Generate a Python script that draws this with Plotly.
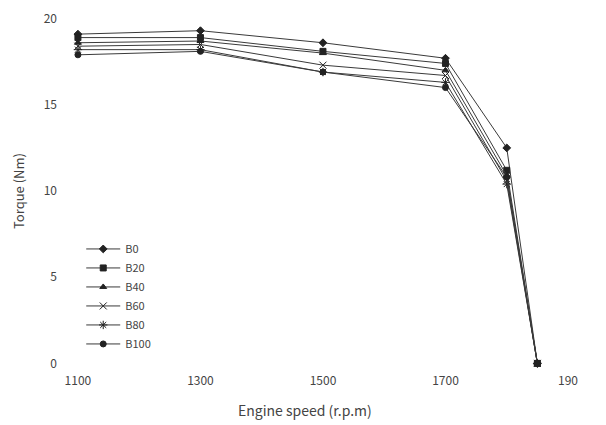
import plotly.graph_objects as go

speed = [1100, 1300, 1500, 1700, 1800, 1850]
B0 = [19.1, 19.3, 18.6, 17.7, 12.5, 0]
B20 = [18.9, 18.9, 18.1, 17.4, 11.2, 0]
B40 = [18.6, 18.7, 18.0, 17.0, 10.9, 0]
B60 = [18.4, 18.5, 17.3, 16.7, 10.6, 0]
B80 = [18.2, 18.2, 16.9, 16.3, 10.4, 0]
B100 = [17.9, 18.1, 16.9, 16.0, 10.8, 0]
series_names = ["B0", "B20", "B40", "B60", "B80", "B100"]
series_vals = [B0, B20, B40, B60, B80, B100]
symbols = ["diamond", "square", "triangle-up", "x-thin-open", "asterisk-open", "circle"]
xticks = [1100, 1300, 1500, 1700, 1900]
xticktext = ["1100", "1300", "1500", "1700", "190"]
yticks = [0, 5, 10, 15, 20]

fig = go.Figure()
for name, vals, sym in zip(series_names, series_vals, symbols):
    fig.add_trace(go.Scatter(
        x=speed, y=vals, name=name, mode="lines+markers",
        line=dict(color="#3a3a3a", width=1),
        marker=dict(symbol=sym, size=6 if sym not in ("x-thin-open", "asterisk-open") else 7,
                    color="#222222", line=dict(color="#222222", width=1)),
        cliponaxis=False,
    ))

fig.update_layout(
    width=606, height=425,
    margin=dict(l=62, r=38, t=10, b=53, autoexpand=False),
    paper_bgcolor="white", plot_bgcolor="white",
    font=dict(family="Noto Sans CJK JP, DejaVu Sans, sans-serif", color="#444444", size=12),
    showlegend=True,
    legend=dict(x=0.038, y=0.38, xanchor="left", yanchor="top",
                font=dict(size=11, color="#444444"), bgcolor="rgba(0,0,0,0)",
                tracegroupgap=0, itemwidth=34),
    xaxis=dict(range=[1074, 1900], tickmode="array", tickvals=xticks, ticktext=xticktext,
               showgrid=False, zeroline=False, showline=False, ticks="",
               automargin=False, tickfont=dict(size=12)),
    yaxis=dict(range=[-0.5, 20.5], tickmode="array", tickvals=yticks,
               showgrid=False, zeroline=False, showline=False, ticks="",
               ticklabelstandoff=4, automargin=False,
               title=dict(text="Torque (Nm)", font=dict(size=13), standoff=16),
               tickfont=dict(size=12)),
    annotations=[dict(text="Engine speed (r.p.m)", x=0.48, y=-0.105, xref="paper", yref="paper",
                      xanchor="center", yanchor="middle", showarrow=False,
                      font=dict(size=14, color="#444444"))],
)
fig.write_html("out.html", config={"displayModeBar": False},
               post_script="document.body.style.margin='0';document.body.style.overflow='hidden';")
